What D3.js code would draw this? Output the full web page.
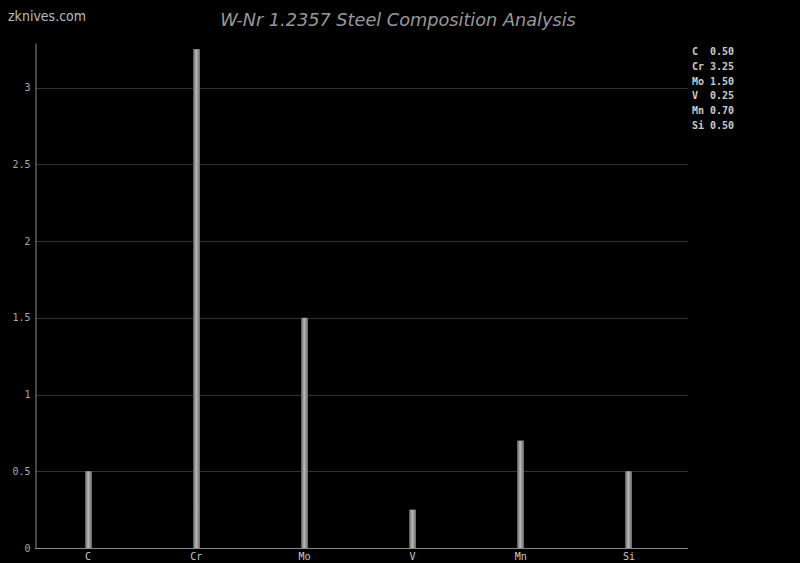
<!DOCTYPE html>
<html><head><meta charset="utf-8">
<script src="https://cdn.jsdelivr.net/npm/d3@7"></script>
<style>body{margin:0;background:#000}svg{display:block}</style>
</head><body>
<svg id="c" width="800" height="563"></svg>
<script>
const categories = ["C","Cr","Mo","V","Mn","Si"];
const values = [0.50, 3.25, 1.50, 0.25, 0.70, 0.50];
const yTicks = [0, 0.5, 1, 1.5, 2, 2.5, 3];
const legendLabels = ["C  0.50","Cr 3.25","Mo 1.50","V  0.25","Mn 0.70","Si 0.50"];

const svg = d3.select("#c");
const m = {l:35, r:688, t:43, b:548};
const x = d3.scaleBand().domain(categories).range([34, 683]);
const y = d3.scaleLinear().domain([0, 3.29]).range([m.b, m.t]);

const defs = svg.append("defs");
const g = defs.append("linearGradient").attr("id","bg").attr("x1","0").attr("x2","1").attr("y1","0").attr("y2","0");
g.append("stop").attr("offset","0").attr("stop-color","#555");
g.append("stop").attr("offset","0.45").attr("stop-color","#bbb");
g.append("stop").attr("offset","1").attr("stop-color","#666");

// grid
svg.append("g").selectAll("line").data(yTicks.filter(d=>d>0)).join("line")
  .attr("x1", m.l).attr("x2", m.r).attr("y1", d=>Math.round(y(d))+0.5).attr("y2", d=>Math.round(y(d))+0.5)
  .attr("stroke","#333").attr("stroke-width",1);

// bars
const bw = 7;
svg.append("g").selectAll("rect").data(values).join("rect")
  .attr("x",(d,i)=>Math.round(x(categories[i]) + x.bandwidth()/2 - bw/2))
  .attr("width", bw)
  .attr("y", d=>y(d)).attr("height", d=>y(0)-y(d))
  .attr("fill","url(#bg)");

// axes
const yAxis = d3.axisLeft(y).tickValues(yTicks).tickSize(0).tickPadding(5).tickFormat(d3.format("~g"));
const ya = svg.append("g").attr("transform",`translate(${m.l+0.5},0)`).call(yAxis);
ya.select(".domain").attr("stroke","#888");
ya.selectAll("text").attr("fill","#aaa").style("font-family","DejaVu Sans Mono, monospace").style("font-size","10px");

const xAxis = d3.axisBottom(x).tickSize(0).tickPadding(4);
const xa = svg.append("g").attr("transform",`translate(0,${m.b+0.5})`).call(xAxis);
xa.select(".domain").attr("stroke","#888").attr("d",`M${m.l},0H${m.r}`);
xa.selectAll("text").attr("fill","#ccc").style("font-family","DejaVu Sans Mono, monospace").style("font-size","10px");

// title
svg.append("text").attr("x",398).attr("y",26).attr("text-anchor","middle")
  .attr("fill","#999").style("font-family","DejaVu Sans, sans-serif").style("font-style","italic").style("font-size","17.7px")
  .text("W-Nr 1.2357 Steel Composition Analysis");

svg.append("text").attr("x",8).attr("y",21).attr("fill","#bbb")
  .style("font-family","DejaVu Sans Condensed, sans-serif").style("font-stretch","condensed").style("font-size","14px")
  .text("zknives.com");

// legend
svg.append("g").selectAll("text").data(legendLabels).join("text")
  .attr("x",692).attr("y",(d,i)=>55+i*14.8)
  .attr("fill","#ccc").style("font-family","DejaVu Sans Mono, monospace").style("font-size","10px").style("font-weight","bold")
  .attr("xml:space","preserve").style("white-space","pre")
  .text(d=>d);
</script>
</body></html>
